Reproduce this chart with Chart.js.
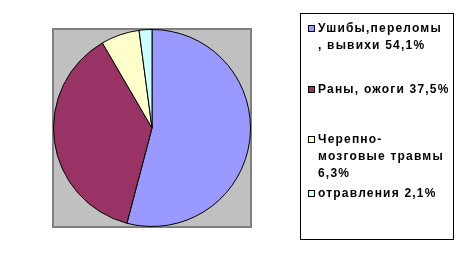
<!DOCTYPE html>
<html>
<head>
<meta charset="utf-8">
<script src="https://cdn.jsdelivr.net/npm/chart.js@4.4.0/dist/chart.umd.min.js"></script>
<style>
  html, body { margin: 0; padding: 0; background: #ffffff; }
  #wrap { position: relative; width: 464px; height: 257px; overflow: hidden; }
  #c { position: absolute; left: 0; top: 0; }
  #legend {
    position: absolute; left: 300px; top: 13px; width: 154px; height: 227px;
    box-sizing: border-box; border: 1px solid #000;
    font-family: "Liberation Sans", Arial, sans-serif; font-weight: bold; font-size: 12px;
    letter-spacing: 1.2px;
    color: #000;
  }
  .item { position: absolute; left: 17px; width: 136px; line-height: 17px; white-space: pre-line; }
  .sw { position: absolute; left: -10px; top: 5px; width: 5px; height: 5px; border: 1px solid #000; box-sizing: content-box; }
</style>
</head>
<body>
<div id="wrap">
  <canvas id="c" width="464" height="257"></canvas>
  <div id="legend"></div>
</div>
<script>
const categories = ["Ушибы,переломы\n, вывихи", "Раны, ожоги", "Черепно-\nмозговые травмы", "отравления"];
const values = [54.1, 37.5, 6.3, 2.1];
const colors = ["#9999FF", "#993366", "#FFFFCC", "#CCFFFF"];
const legendTops = [6, 67, 117, 171];

const bgPlugin = {
  id: 'plotBg',
  beforeDraw(chart) {
    const a = chart.chartArea, ctx = chart.ctx;
    ctx.save();
    ctx.fillStyle = '#C0C0C0';
    ctx.fillRect(a.left, a.top, a.right - a.left, a.bottom - a.top);
    ctx.strokeStyle = '#808080';
    ctx.lineWidth = 2;
    ctx.strokeRect(a.left, a.top, a.right - a.left, a.bottom - a.top);
    ctx.restore();
  }
};

new Chart(document.getElementById('c'), {
  type: 'pie',
  data: {
    labels: categories,
    datasets: [{
      data: values,
      backgroundColor: colors,
      borderColor: '#000000',
      borderWidth: 1
    }]
  },
  options: {
    responsive: false,
    devicePixelRatio: 1,
    animation: false,
    layout: { padding: { left: 53, right: 213, top: 29, bottom: 30 } },
    plugins: { legend: { display: false }, tooltip: { enabled: false } }
  },
  plugins: [bgPlugin]
});

const legend = document.getElementById('legend');
categories.forEach((cat, i) => {
  const it = document.createElement('div');
  it.className = 'item';
  it.style.top = legendTops[i] + 'px';
  const sw = document.createElement('span');
  sw.className = 'sw';
  sw.style.background = colors[i];
  it.appendChild(sw);
  it.appendChild(document.createTextNode(cat + ' ' + values[i].toFixed(1).replace('.', ',') + '%'));
  legend.appendChild(it);
});
</script>
</body>
</html>
